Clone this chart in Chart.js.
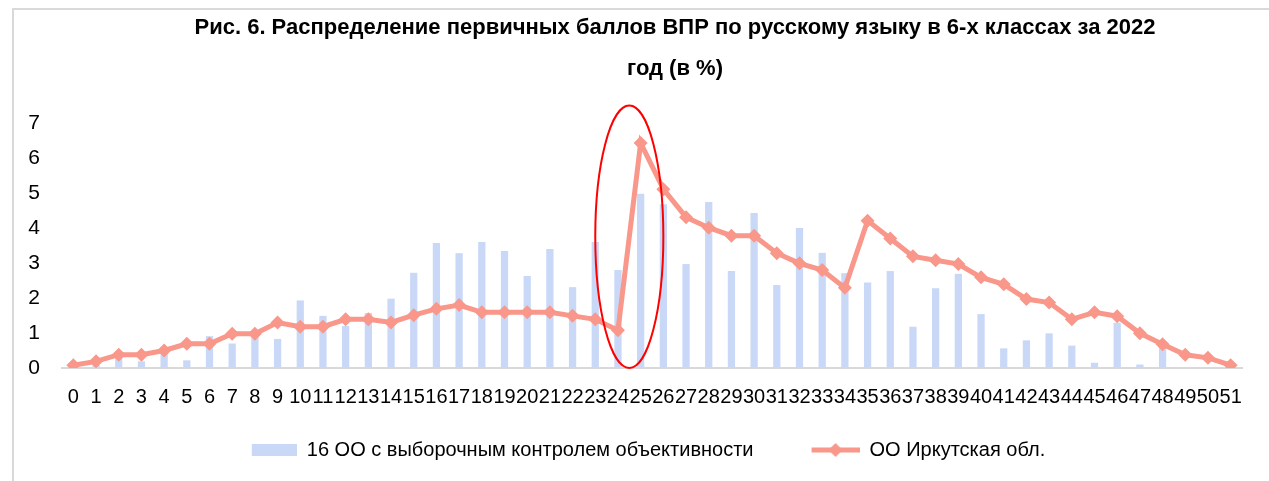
<!DOCTYPE html>
<html>
<head>
<meta charset="utf-8">
<script src="https://cdn.jsdelivr.net/npm/chart.js@4"></script>
<style>
  html, body { margin: 0; padding: 0; background: #fff; overflow: hidden; }
  .frame {
    position: absolute; left: 12px; top: 8px;
    width: 1330px; height: 480px;
    border-left: 2px solid #d9d9d9; border-top: 2px solid #d9d9d9;
  }
  .frame canvas { position: absolute; left: 0; top: 0; }
</style>
</head>
<body>
<div class="frame"><canvas id="chart" width="1322" height="471"></canvas></div>
<script>
const scores = ['0','1','2','3','4','5','6','7','8','9','10','11','12','13','14','15','16','17','18','19','20',
  '21','22','23','24','25','26','27','28','29','30','31','32','33','34','35','36','37','38','39','40',
  '41','42','43','44','45','46','47','48','49','50','51'];

// 16 ОО с выборочным контролем объективности
const sampleOO = [0, 0.1, 0.35, 0.19, 0.45, 0.22, 0.91, 0.7, 0.97, 0.83, 1.93, 1.49, 1.2, 1.57, 1.98, 2.72,
  3.57, 3.28, 3.6, 3.34, 2.63, 3.4, 2.31, 3.6, 2.8, 4.98, 4.68, 2.97, 4.74, 2.77, 4.43, 2.37, 4.0, 3.29,
  2.71, 2.44, 2.77, 1.18, 2.28, 2.69, 1.54, 0.56, 0.79, 0.99, 0.64, 0.15, 1.29, 0.1, 0.65, 0, 0, 0];

// ОО Иркутская обл.
const irkutsk = [0.08, 0.19, 0.38, 0.38, 0.5, 0.69, 0.69, 0.98, 0.98, 1.3, 1.18, 1.18, 1.39, 1.39, 1.3, 1.51,
  1.69, 1.8, 1.59, 1.59, 1.59, 1.59, 1.49, 1.39, 1.08, 6.43, 5.11, 4.31, 4.01, 3.78, 3.78, 3.28, 2.99, 2.8,
  2.29, 4.21, 3.7, 3.19, 3.08, 2.97, 2.59, 2.39, 1.97, 1.87, 1.39, 1.59, 1.48, 0.99, 0.68, 0.38, 0.29, 0.08];

const titleLines = ['Рис. 6. Распределение первичных баллов ВПР по русскому языку в 6-х классах за 2022', 'год (в %)'];
const yTicks = [0, 1, 2, 3, 4, 5, 6, 7];

const BAR_COLOR = '#c9d8f7';
const LINE_COLOR = '#f8978a';
const FONT = '"Liberation Sans", Arial, sans-serif';
const SYM_W = 96;

// legend symbols, drawn at the right end of a SYM_W wide box
function barSymbol() {
  const c = document.createElement('canvas');
  c.width = SYM_W; c.height = 12;
  const g = c.getContext('2d');
  g.fillStyle = BAR_COLOR;
  g.fillRect(SYM_W - 45, 0, 45, 12);
  return c;
}
function lineSymbol() {
  const c = document.createElement('canvas');
  c.width = SYM_W; c.height = 16;
  const g = c.getContext('2d');
  const x0 = SYM_W - 48;
  g.strokeStyle = LINE_COLOR;
  g.lineWidth = 5;
  g.beginPath(); g.moveTo(x0, 8); g.lineTo(SYM_W, 8); g.stroke();
  g.fillStyle = LINE_COLOR;
  g.beginPath(); g.moveTo(x0 + 24, 1); g.lineTo(x0 + 31, 8); g.lineTo(x0 + 24, 15); g.lineTo(x0 + 17, 8); g.closePath(); g.fill();
  return c;
}

// red ellipse around the jump between 24 and 25
const highlight = {
  id: 'highlight',
  afterLayout(chart) {
    // legend sits a bit left of the plot centre
    chart.legend.left -= 29;
    chart.legend.right -= 29;
  },
  afterDatasetsDraw(chart) {
    const x = chart.scales.x, y = chart.scales.y;
    const x1 = x.getPixelForValue(24), x2 = x.getPixelForValue(25);
    const cx = (x1 + x2) / 2, rx = 1.5 * (x2 - x1);
    const top = y.getPixelForValue(7.5), bottom = y.getPixelForValue(0);
    const ctx = chart.ctx;
    ctx.save();
    ctx.strokeStyle = '#ff0000';
    ctx.lineWidth = 2;
    ctx.beginPath();
    ctx.ellipse(cx, (top + bottom) / 2, rx, (bottom - top) / 2, 0, 0, Math.PI * 2);
    ctx.stroke();
    ctx.restore();
  }
};

const ctx = document.getElementById('chart').getContext('2d');
const chart = new Chart(ctx, {
  type: 'bar',
  data: {
    labels: scores,
    datasets: [{
      label: '16 ОО с выборочным контролем объективности',
      data: sampleOO,
      backgroundColor: BAR_COLOR,
      barPercentage: 0.32,
      categoryPercentage: 1,
      order: 2
    }, {
      type: 'line',
      label: 'ОО Иркутская обл.',
      data: irkutsk,
      borderColor: LINE_COLOR,
      backgroundColor: LINE_COLOR,
      borderWidth: 5,
      pointStyle: 'rectRot',
      pointRadius: 7,
      pointBorderWidth: 0,
      tension: 0,
      order: 1
    }]
  },
  options: {
    responsive: false,
    animation: false,
    layout: { padding: { left: 0, right: 0, top: 0, bottom: 11 } },
    plugins: {
      title: {
        display: true,
        text: titleLines,
        color: '#000',
        font: { family: FONT, size: 22, weight: 'bold', lineHeight: '41px' },
        padding: { top: -2.5, bottom: 33.5 }
      },
      legend: {
        position: 'bottom',
        fullSize: false,
        labels: {
          usePointStyle: true,
          pointStyleWidth: SYM_W,
          color: '#000',
          font: { family: FONT, size: 20 },
          padding: 10,
          sort: (a, b) => a.datasetIndex - b.datasetIndex,
          generateLabels(chart) {
            const items = Chart.defaults.plugins.legend.labels.generateLabels(chart);
            items.forEach(it => { it.pointStyle = it.datasetIndex === 0 ? barSymbol() : lineSymbol(); });
            return items;
          }
        }
      },
      tooltip: { enabled: false }
    },
    scales: {
      x: {
        afterFit: s => { s.height = 62; },
        grid: { display: false, drawTicks: false },
        border: { display: true, color: '#d9d9d9', width: 2 },
        ticks: {
          color: '#000', autoSkip: false, maxRotation: 0, minRotation: 0, padding: 17,
          font: { family: FONT, size: 20 }
        }
      },
      y: {
        min: 0, max: 7,
        afterBuildTicks: s => { s.ticks = yTicks.map(v => ({ value: v })); },
        afterFit: s => { s.width = 48; },
        grid: { display: false, drawTicks: false },
        border: { display: false },
        ticks: { color: '#000', padding: 22, font: { family: FONT, size: 21 } }
      },
      pad: {
        type: 'linear',
        position: 'right',
        display: true,
        afterFit: s => { s.width = 94; },
        grid: { display: false, drawTicks: false },
        border: { display: false },
        ticks: { display: false }
      }
    }
  },
  plugins: [highlight]
});
</script>
</body>
</html>
